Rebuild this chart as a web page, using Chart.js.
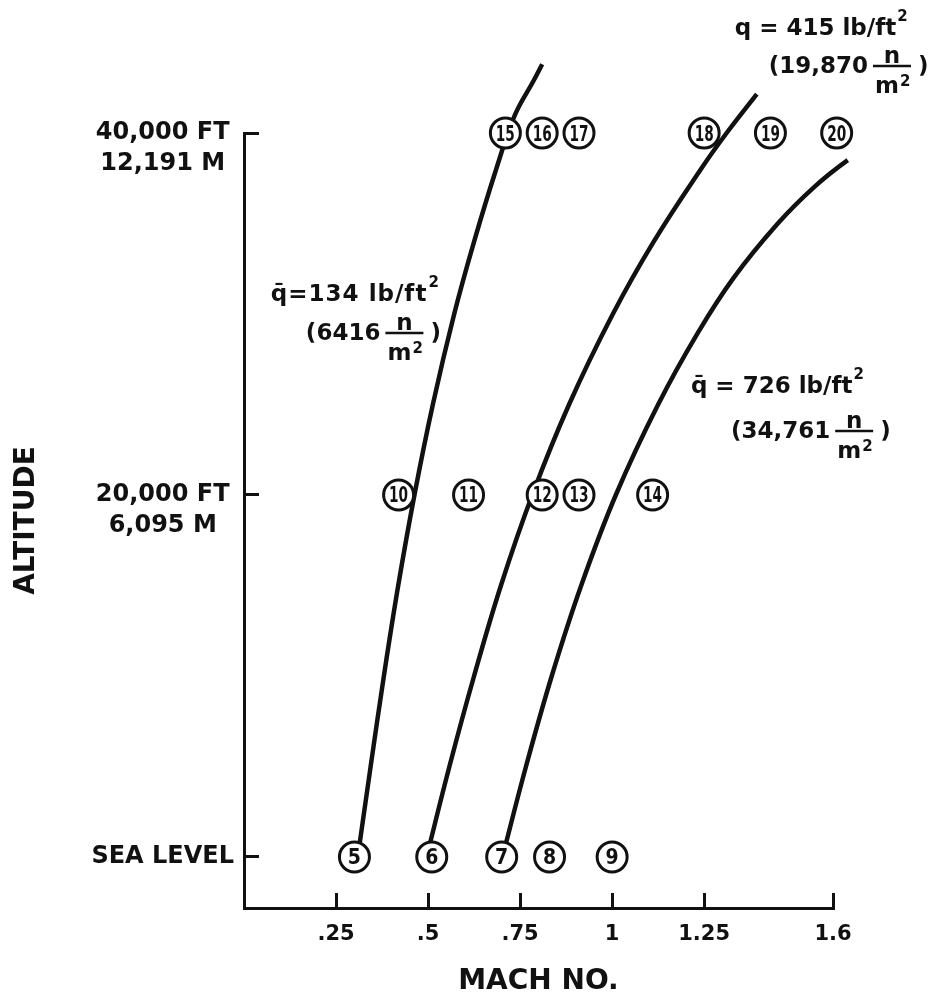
<!DOCTYPE html>
<html>
<head>
<meta charset="utf-8">
<title>Test conditions: altitude vs Mach number</title>
<script src="https://cdn.jsdelivr.net/npm/chart.js@4/dist/chart.umd.min.js"></script>
<style>
  html, body { margin: 0; padding: 0; background: #fff; }
  canvas { display: block; }
</style>
</head>
<body>
<canvas id="chart" width="939" height="1001"></canvas>
<script>
// Constant dynamic-pressure lines: altitude (ft) and Mach number along each line
const altQ134  = [0, 5000, 10000, 15000, 20000, 25000, 30000, 34000, 38000, 41000, 42900, 43800];
const machQ134 = [0.309, 0.344, 0.380, 0.419, 0.463, 0.513, 0.571, 0.625, 0.685, 0.736, 0.787, 0.810];

const altQ415  = [0, 5000, 10000, 15000, 20000, 25000, 30000, 34000, 38000, 40000, 42150];
const machQ415 = [0.496, 0.558, 0.625, 0.698, 0.783, 0.883, 1.002, 1.113, 1.241, 1.311, 1.393];

const altQ726  = [0, 5000, 10000, 15000, 20000, 25000, 29000, 32000, 35000, 37000, 38500, 39600, 40550];
const machQ726 = [0.702, 0.766, 0.836, 0.916, 1.010, 1.125, 1.234, 1.330, 1.450, 1.548, 1.640, 1.724, 1.805];

// Numbered test conditions
const testPoints = [5, 6, 7, 8, 9, 10, 11, 12, 13, 14, 15, 16, 17, 18, 19, 20];
const testMach   = [0.30, 0.51, 0.70, 0.83, 1.00, 0.42, 0.61, 0.81, 0.91, 1.11, 0.71, 0.81, 0.91, 1.25, 1.43, 1.61];
const testAlt    = [0, 0, 0, 0, 0, 20000, 20000, 20000, 20000, 20000, 40000, 40000, 40000, 40000, 40000, 40000];

// Axis ticks
const machTicks      = [0.25, 0.5, 0.75, 1, 1.25, 1.6];
const machTickLabels = ['.25', '.5', '.75', '1', '1.25', '1.6'];
const altTicks       = [0, 20000, 40000];
const altTickLabels  = ['SEA LEVEL', ['', '20,000 FT', '6,095 M'], ['', '40,000 FT', '12,191 M']];

const INK = '#111';
const FONT = '"DejaVu Sans", "Liberation Sans", sans-serif';
Chart.defaults.font.family = FONT;
Chart.defaults.color = INK;

const toXY = (xs, ys) => xs.map((m, i) => ({ x: m, y: ys[i] }));

// Dynamic-pressure captions, anchored in Mach / altitude units
const notes = [
  { mach: 0.073, alt: 31160, head: 'q\u0304=134 lb/ft',   si: '(6416',   spacing: 1, dx2: 35, dy2: 39 },
  { mach: 1.333, alt: 45860, head: 'q = 415 lb/ft',      si: '(19,870', spacing: 0, dx2: 34, dy2: 38 },
  { mach: 1.214, alt: 26080, head: 'q\u0304 = 726 lb/ft', si: '(34,761', spacing: 0, dx2: 40, dy2: 45 }
];

function drawNote(ctx, n, x, y) {
  const big = 'bold 23px ' + FONT;
  const sup = 'bold 15px ' + FONT;
  ctx.save();
  ctx.fillStyle = INK;
  ctx.strokeStyle = INK;
  ctx.textAlign = 'left';
  ctx.textBaseline = 'alphabetic';
  // first line: q = value lb/ft^2
  ctx.font = big;
  ctx.letterSpacing = n.spacing + 'px';
  const base = y + 8;
  ctx.fillText(n.head, x, base);
  const w = ctx.measureText(n.head).width;
  ctx.letterSpacing = '0px';
  ctx.font = sup;
  ctx.fillText('2', x + w + 1, base - 14);
  // second line: (value n/m^2)
  const x2 = x + n.dx2;
  const c2 = y + n.dy2;
  ctx.font = big;
  ctx.fillText(n.si, x2, c2 + 8);
  const bx = x2 + ctx.measureText(n.si).width + 5;
  const bw = 38;
  const by = c2 + 1;
  ctx.lineWidth = 2.5;
  ctx.beginPath();
  ctx.moveTo(bx, by);
  ctx.lineTo(bx + bw, by);
  ctx.stroke();
  ctx.textAlign = 'center';
  ctx.fillText('n', bx + bw / 2, by - 3);
  const mw = ctx.measureText('m').width;
  const mx = bx + bw / 2 - 5;
  ctx.fillText('m', mx, by + 27);
  ctx.font = sup;
  ctx.textAlign = 'left';
  ctx.fillText('2', mx + mw / 2 + 1, by + 20);
  ctx.font = big;
  ctx.fillText(')', bx + bw + 7, c2 + 8);
  ctx.restore();
}

const labelsPlugin = {
  id: 'labels',
  afterDatasetsDraw(chart) {
    const ctx = chart.ctx;
    const xs = chart.scales.x, ys = chart.scales.y;
    // condition numbers inside the circles, squeezed to fit
    const meta = chart.getDatasetMeta(0);
    ctx.save();
    ctx.fillStyle = INK;
    ctx.textAlign = 'center';
    ctx.textBaseline = 'alphabetic';
    ctx.font = 'bold 21px "Liberation Sans Narrow", "DejaVu Sans Condensed", ' + FONT;
    meta.data.forEach((pt, i) => {
      ctx.fillText(String(testPoints[i]), pt.x, pt.y + 7.5, 19);
    });
    ctx.restore();
    notes.forEach(n => drawNote(ctx, n, xs.getPixelForValue(n.mach), ys.getPixelForValue(n.alt)));
  }
};

const lineStyle = {
  showLine: true,
  pointRadius: 0,
  borderColor: INK,
  borderWidth: 4.5,
  tension: 0.4,
  fill: false,
  clip: false,
  order: 1
};

const axisCommon = {
  type: 'linear',
  border: { display: true, color: INK, width: 3 },
  grid: { drawOnChartArea: false, drawTicks: true, tickLength: -15, tickWidth: 3, tickColor: INK }
};

new Chart(document.getElementById('chart'), {
  type: 'scatter',
  data: {
    datasets: [
      {
        label: 'Test conditions',
        data: toXY(testMach, testAlt),
        showLine: false,
        pointRadius: 15,
        pointBorderWidth: 3,
        pointBackgroundColor: '#fff',
        pointBorderColor: INK,
        clip: false,
        order: 0
      },
      Object.assign({ label: 'q = 134 lb/ft2', data: toXY(machQ134, altQ134) }, lineStyle),
      Object.assign({ label: 'q = 415 lb/ft2', data: toXY(machQ415, altQ415) }, lineStyle),
      Object.assign({ label: 'q = 726 lb/ft2', data: toXY(machQ726, altQ726) }, lineStyle)
    ]
  },
  options: {
    responsive: false,
    devicePixelRatio: 1,
    animation: false,
    events: [],
    layout: { padding: { left: 0, right: 106, top: 133, bottom: 0 } },
    plugins: { legend: { display: false }, tooltip: { enabled: false } },
    scales: {
      x: Object.assign({}, axisCommon, {
        min: 0,
        max: 1.6,
        afterBuildTicks: s => { s.ticks = machTicks.map(v => ({ value: v })); },
        afterFit: s => { s.height = 93; },
        ticks: {
          callback: (v, i) => machTickLabels[i],
          autoSkip: false,
          maxRotation: 0,
          padding: 29,
          color: INK,
          font: { size: 21, weight: 'bold', lineHeight: 1.2 }
        },
        title: {
          display: true,
          text: 'MACH NO.',
          color: INK,
          font: { size: 28, weight: 'bold', lineHeight: 1.2 },
          padding: { top: 0, bottom: 2 }
        }
      }),
      y: Object.assign({}, axisCommon, {
        min: -2818,
        max: 40000,
        afterBuildTicks: s => { s.ticks = altTicks.map(v => ({ value: v })); },
        afterFit: s => { s.width = 244; },
        ticks: {
          callback: (v, i) => altTickLabels[i],
          crossAlign: 'center',
          padding: 25,
          color: INK,
          font: { size: 24, weight: 'bold', lineHeight: 1.3 }
        },
        title: {
          display: true,
          text: 'ALTITUDE',
          color: INK,
          font: { size: 28, weight: 'bold', lineHeight: 1.2 },
          padding: { top: 10, bottom: 0 }
        }
      })
    }
  },
  plugins: [labelsPlugin]
});
</script>
</body>
</html>
